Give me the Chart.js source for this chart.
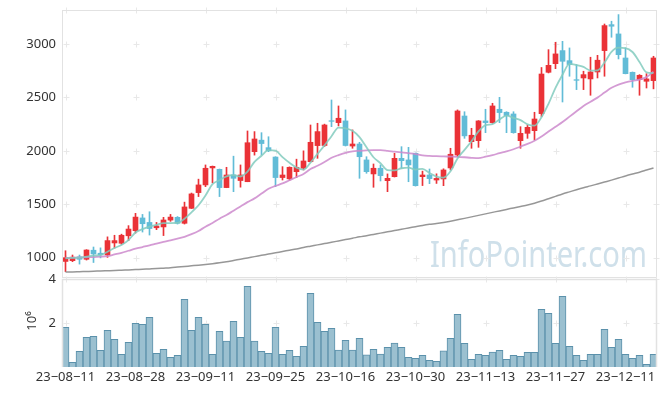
<!DOCTYPE html>
<html><head><meta charset="utf-8">
<script src="https://cdn.jsdelivr.net/npm/chart.js@4/dist/chart.umd.min.js"></script>
<style>
html,body{margin:0;padding:0;background:#fff;}
#wrap{position:relative;width:665px;height:396px;overflow:hidden;background:#fff;}
#pc{position:absolute;left:0;top:0;}
#vc{position:absolute;left:0;top:262px;}
</style></head><body>
<div id="wrap">
<canvas id="pc" width="665" height="278"></canvas>
<canvas id="vc" width="665" height="134"></canvas>
</div>
<script>
const dates = ['23-08-11','23-08-14','23-08-16','23-08-17','23-08-18','23-08-21','23-08-22','23-08-23','23-08-24','23-08-25',
'23-08-28','23-08-29','23-08-30','23-08-31','23-09-01','23-09-04','23-09-05','23-09-06','23-09-07','23-09-08',
'23-09-11','23-09-12','23-09-13','23-09-14','23-09-15','23-09-18','23-09-19','23-09-20','23-09-21','23-09-22',
'23-09-25','23-09-26','23-09-27','23-10-04','23-10-05','23-10-06','23-10-10','23-10-11','23-10-12','23-10-13',
'23-10-16','23-10-17','23-10-18','23-10-19','23-10-20','23-10-23','23-10-24','23-10-25','23-10-26','23-10-27',
'23-10-30','23-10-31','23-11-01','23-11-02','23-11-03','23-11-06','23-11-07','23-11-08','23-11-09','23-11-10',
'23-11-13','23-11-14','23-11-15','23-11-16','23-11-17','23-11-20','23-11-21','23-11-22','23-11-23','23-11-24',
'23-11-27','23-11-28','23-11-29','23-11-30','23-12-01','23-12-04','23-12-05','23-12-06','23-12-07','23-12-08',
'23-12-11','23-12-12','23-12-13','23-12-14','23-12-15'];

const opens = [965,972,1008,985,1070,1042,1025,1138,1135,1205,
1253,1372,1330,1280,1288,1352,1378,1322,1462,1609,
1681,1840,1827,1656,1775,1722,1711,1992,2100,2030,
1942,1750,1738,1805,1837,1898,2049,2050,2282,2264,
2280,2045,2064,1915,1784,1837,1721,1758,1930,1915,
1977,1758,1774,1727,1737,1840,1961,2326,2086,2095,
2280,2264,2389,2361,2345,2095,2164,2189,2348,2735,
2816,2938,2844,2666,2682,2673,2738,2938,3181,3094,
2869,2735,2666,2651,2657];
const highs = [1065,1025,1025,1075,1100,1092,1195,1210,1220,1300,
1415,1405,1430,1330,1378,1405,1385,1520,1605,1735,
1868,1858,1830,1846,1950,1868,2186,2180,2170,2132,
1945,1852,1850,1922,2000,2242,2258,2250,2476,2420,
2383,2196,2080,1945,1877,1868,1784,1977,2039,2033,
1980,1810,1830,1785,1832,2024,2383,2366,2211,2283,
2389,2445,2501,2366,2366,2226,2242,2361,2780,2947,
3016,3025,2963,2807,2745,2876,2894,3187,3213,3275,
2963,2738,2713,2722,2885];
const lows = [870,963,940,978,955,998,1003,1090,1125,1160,
1230,1240,1212,1262,1207,1340,1315,1315,1460,1572,
1665,1700,1572,1655,1618,1660,1711,1960,1962,1992,
1665,1727,1725,1750,1821,1898,1930,2040,2226,2233,
2045,2024,1743,1790,1659,1718,1618,1755,1837,1711,
1670,1675,1693,1695,1674,1821,1945,2117,2024,2033,
2170,2258,2264,2170,2165,2024,2117,2102,2320,2729,
2769,2457,2698,2573,2573,2520,2682,2698,3063,2860,
2720,2595,2520,2588,2580];
const closes = [1000,1005,985,1072,1035,1028,1160,1160,1210,1268,
1380,1318,1273,1297,1353,1380,1322,1475,1597,1681,
1837,1855,1656,1774,1743,1774,2076,2111,2068,2000,
1750,1774,1846,1846,1905,2080,2180,2242,2276,2305,
2050,2064,1945,1805,1837,1768,1743,1930,1908,1868,
1674,1774,1740,1742,1821,1968,2373,2140,2146,2280,
2264,2420,2358,2330,2170,2164,2220,2298,2719,2800,
2907,2838,2807,2660,2713,2738,2848,3172,3166,2900,
2722,2666,2707,2673,2869];

const ma5 = [994,998,1000,1010,1019,1025,1056,1091,1119,1165,
1236,1267,1290,1307,1324,1324,1325,1365,1425,1491,
1582,1689,1725,1761,1773,1760,1805,1896,1954,2006,
2001,1941,1888,1843,1824,1890,1971,2051,2137,2217,
2211,2187,2128,2034,1940,1884,1820,1817,1837,1843,
1825,1831,1793,1759,1750,1809,1929,2009,2090,2182,
2241,2250,2294,2330,2308,2288,2248,2236,2314,2440,
2589,2712,2814,2802,2785,2751,2753,2826,2927,2965,
2962,2925,2832,2734,2727];
const ma20 = [998,1000,1002,1004,1006,1010,1015,1030,1045,1065,
1085,1100,1115,1132,1148,1162,1178,1195,1220,1250,
1290,1325,1365,1400,1440,1480,1520,1555,1600,1645,
1672,1695,1725,1755,1783,1830,1860,1895,1935,1960,
1980,1995,2000,2004,2006,2006,2000,1992,1985,1978,
1970,1958,1953,1950,1948,1946,1944,1940,1935,1932,
1945,1960,1978,1995,2015,2040,2065,2095,2135,2180,
2225,2270,2320,2370,2420,2460,2498,2545,2590,2620,
2640,2655,2667,2690,2740];
const maLong = [866,867,869,871,873,876,878,880,883,886,
889,892,895,898,902,906,912,918,924,930,
937,944,952,962,974,986,998,1010,1022,1034,
1046,1058,1070,1082,1096,1108,1120,1132,1144,1157,
1170,1182,1195,1206,1218,1230,1242,1254,1266,1278,
1290,1302,1312,1320,1330,1342,1355,1368,1382,1396,
1410,1424,1438,1452,1466,1480,1494,1510,1530,1552,
1574,1596,1616,1636,1655,1672,1690,1708,1726,1745,
1765,1783,1800,1820,1840];

const volumes = [1.80,0.21,0.71,1.35,1.39,0.76,1.67,1.26,0.58,1.12,
1.98,1.94,2.26,0.62,0.80,0.44,0.53,3.08,1.67,2.26,
1.94,0.58,1.62,1.18,2.08,1.35,3.67,1.18,0.71,0.62,
1.80,0.58,0.76,0.48,0.94,3.35,2.03,1.62,1.76,0.77,
1.21,0.77,1.30,0.55,0.80,0.59,0.89,1.09,0.89,0.44,
0.39,0.53,0.30,0.26,0.73,1.30,2.39,1.08,0.35,0.58,
0.53,0.68,0.76,0.35,0.53,0.48,0.67,0.67,2.62,2.44,
1.08,3.21,0.94,0.53,0.30,0.58,0.58,1.71,0.89,1.26,
0.58,0.39,0.53,0.12,0.58];

const priceTicks = [1000,1500,2000,2500,3000];
const volTicks = [2,4];
const dateTicks = ['23-08-11','23-08-28','23-09-11','23-09-25','23-10-16','23-10-30','23-11-13','23-11-27','23-12-11'];
const volUnit = '10\u2076';
const watermark = 'InfoPointer.com';

const UP = '#ea3237', DOWN = '#62bcd7';
const FRAME = '#e2e2e2', CROSS = '#e8e8e8';
Chart.defaults.font.family = '"Noto Sans", "Open Sans", sans-serif';
Chart.defaults.font.size = 13;
Chart.defaults.color = '#333';

const candleColors = closes.map((c, i) => c >= opens[i] ? UP : DOWN);
const tickIdx = dateTicks.map(d => dates.indexOf(d));

function crisp(v){ return Math.round(v) + 0.5; }
function drawCross(ctx, px, py, s){
  px = crisp(px); py = crisp(py);
  ctx.moveTo(px - s, py); ctx.lineTo(px + s, py);
  ctx.moveTo(px, py - s); ctx.lineTo(px, py + s);
}

const fixY = function(s){ s.width = 62; s.paddingTop = 0; s.paddingBottom = 0; };

const priceDecor = {
  id: 'priceDecor',
  beforeDatasetsDraw(chart){
    const {ctx, chartArea: a, scales: {x, y}} = chart;
    ctx.save();
    ctx.font = '36px "Noto Sans"';
    ctx.fillStyle = '#cfe0ea';
    const w = ctx.measureText(watermark).width;
    ctx.translate(430, 267);
    ctx.scale(217 / w, 1);
    ctx.textBaseline = 'alphabetic';
    ctx.fillText(watermark, 0, 0);
    ctx.restore();
    ctx.save();
    ctx.strokeStyle = CROSS; ctx.lineWidth = 1;
    ctx.beginPath();
    tickIdx.forEach(i => {
      const px = x.getPixelForValue(i);
      priceTicks.forEach(v => drawCross(ctx, px, y.getPixelForValue(v), 3));
      drawCross(ctx, px, a.top, 3);
    });
    priceTicks.forEach(v => drawCross(ctx, a.right - 1, y.getPixelForValue(v), 3));
    ctx.stroke();
    ctx.restore();
  },
  afterDatasetsDraw(chart){
    const {ctx, chartArea: a} = chart;
    ctx.save();
    ctx.strokeStyle = FRAME; ctx.lineWidth = 1;
    ctx.strokeRect(crisp(a.left), crisp(a.top), Math.round(a.right - a.left) - 1, Math.round(a.bottom - a.top) - 1);
    ctx.restore();
  }
};

new Chart(document.getElementById('pc'), {
  type: 'bar',
  data: {
    labels: dates,
    datasets: [
      {type: 'line', data: ma5, borderColor: 'rgba(130,203,190,0.85)', borderWidth: 1.8, pointRadius: 0, cubicInterpolationMode: 'monotone', order: 0},
      {type: 'line', data: ma20, borderColor: 'rgba(204,138,204,0.85)', borderWidth: 1.8, pointRadius: 0, cubicInterpolationMode: 'monotone', order: 0},
      {type: 'line', data: maLong, borderColor: 'rgba(140,140,140,0.9)', borderWidth: 1.5, pointRadius: 0, cubicInterpolationMode: 'monotone', order: 0},
      {type: 'bar', data: opens.map((o, i) => [o, closes[i]]), backgroundColor: candleColors, borderWidth: 0, barThickness: 5, grouped: false, order: 1},
      {type: 'bar', data: lows.map((l, i) => [l, highs[i]]), backgroundColor: candleColors, borderWidth: 0, barThickness: 1, grouped: false, order: 2}
    ]
  },
  options: {
    responsive: false, animation: false, events: [],
    layout: {padding: {top: 10, right: 8, bottom: 0, left: 0}},
    plugins: {legend: {display: false}, tooltip: {enabled: false}},
    scales: {
      x: {type: 'category', offset: true, display: false, grid: {display: false}},
      y: {
        min: 810, max: 3318,
        grid: {display: false, drawTicks: false}, border: {display: false},
        afterBuildTicks: s => { s.ticks = priceTicks.map(v => ({value: v})); },
        afterFit: fixY,
        ticks: {padding: 6, color: '#333', callback: v => String(v)}
      }
    }
  },
  plugins: [priceDecor]
});

const volDecor = {
  id: 'volDecor',
  beforeDatasetsDraw(chart){
    const {ctx, chartArea: a, scales: {x, y}} = chart;
    ctx.save();
    ctx.strokeStyle = CROSS; ctx.lineWidth = 1;
    ctx.beginPath();
    tickIdx.forEach(i => {
      const px = x.getPixelForValue(i);
      volTicks.forEach(v => drawCross(ctx, px, y.getPixelForValue(v), 3));
    });
    volTicks.forEach(v => drawCross(ctx, a.right - 1, y.getPixelForValue(v), 3));
    ctx.stroke();
    ctx.restore();
  },
  afterDatasetsDraw(chart){
    const {ctx, chartArea: a} = chart;
    ctx.save();
    ctx.strokeStyle = FRAME; ctx.lineWidth = 1.5;
    ctx.beginPath();
    ctx.moveTo(crisp(a.left), a.bottom);
    ctx.lineTo(crisp(a.left), crisp(a.top));
    ctx.lineTo(Math.round(a.right) - 0.5, crisp(a.top));
    ctx.lineTo(Math.round(a.right) - 0.5, a.bottom);
    ctx.stroke();
    ctx.fillStyle = '#333';
    ctx.font = '13px "Noto Sans"';
    ctx.translate(32, (a.top + a.bottom) / 2 - 2);
    ctx.rotate(-Math.PI / 2);
    ctx.textAlign = 'center';
    ctx.textBaseline = 'middle';
    ctx.fillText(volUnit, 0, 0);
    ctx.restore();
  }
};

new Chart(document.getElementById('vc'), {
  type: 'bar',
  data: {
    labels: dates,
    datasets: [
      {data: volumes, backgroundColor: '#9bc0d0', borderColor: '#5b91ab', borderWidth: 1,
       categoryPercentage: 1, barPercentage: 1}
    ]
  },
  options: {
    responsive: false, animation: false, events: [],
    layout: {padding: {top: 17, right: 8, bottom: 0, left: 0}},
    plugins: {legend: {display: false}, tooltip: {enabled: false}},
    scales: {
      x: {
        type: 'category', offset: true,
        grid: {display: false, drawTicks: false}, border: {display: false},
        afterBuildTicks: s => { s.ticks = s.ticks.filter(t => tickIdx.includes(t.value)); },
        afterFit: s => { s.height = 29; s.paddingLeft = 0; s.paddingRight = 0; },
        ticks: {autoSkip: false, maxRotation: 0, minRotation: 0, padding: 2, color: '#333',
          callback: function(v){ return this.getLabelForValue(v).replace(/-/g, '\u2212'); }}
      },
      y: {
        min: 0, max: 4,
        grid: {display: false, drawTicks: false}, border: {display: false},
        afterBuildTicks: s => { s.ticks = volTicks.map(v => ({value: v})); },
        afterFit: fixY,
        ticks: {padding: 6, color: '#333', callback: v => String(v)}
      }
    }
  },
  plugins: [volDecor]
});
</script>
</body></html>
